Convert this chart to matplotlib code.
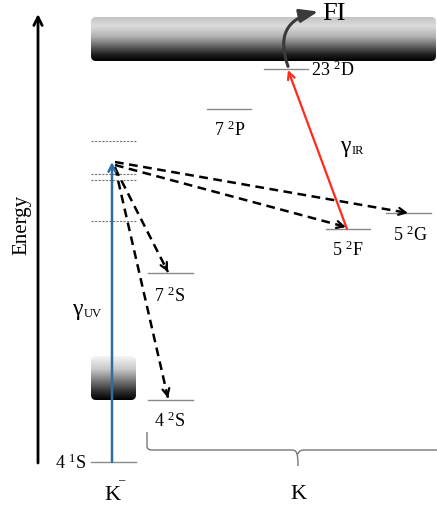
import numpy as np
import matplotlib
matplotlib.use("Agg")
import matplotlib.pyplot as plt
from matplotlib.patches import FancyBboxPatch, FancyArrowPatch, PathPatch
from matplotlib.path import Path
from matplotlib.colors import LinearSegmentedColormap

plt.rcParams['font.family'] = ['Liberation Serif', 'DejaVu Serif']
plt.rcParams['mathtext.fontset'] = 'custom'
plt.rcParams['mathtext.rm'] = 'Liberation Serif'
plt.rcParams['mathtext.it'] = 'Liberation Serif:italic'
plt.rcParams['mathtext.bf'] = 'Liberation Serif:bold'

# Energy levels: label, left x, right x, energy (screen units, down = lower energy)
level_names = [r"4 $\mathrm{^1}$S", r"4 $\mathrm{^2}$S", r"7 $\mathrm{^2}$S", r"7 $\mathrm{^2}$P",
               r"23 $\mathrm{^2}$D", r"5 $\mathrm{^2}$F", r"5 $\mathrm{^2}$G"]
level_x0 = [91, 148, 148, 207, 264, 326, 386]
level_x1 = [136, 193, 193, 251, 308, 370, 431]
level_e = [463, 401, 274, 110, 70, 230, 214]

# Virtual (dotted) levels of the anion
virtual_e = [142, 175, 181, 222]

# Decay channels from the excited anion state: (target x, target energy)
excited = (112, 163)
decay_x = [408, 346, 168, 168]
decay_e = [214, 228, 273, 399]
decay_start_dy = [0, 3, 6, 5]

fig = plt.figure(figsize=(4.37, 5.06), dpi=100)
ax = fig.add_axes([0, 0, 1, 1])
ax.set_xlim(0, 437)
ax.set_ylim(506, 0)
ax.axis('off')

# Energy axis
ax.annotate('', xy=(38, 15), xytext=(38, 464),
            arrowprops=dict(arrowstyle='->,head_length=0.6,head_width=0.3',
                            lw=2, color='black', shrinkA=0, shrinkB=0))
ax.text(22, 225, 'Energy', rotation=90, ha='center', va='center', fontsize=15)

# Continua drawn as gradient boxes
def gradient_box(x0, x1, y_top, y_bot, colors, rad):
    cmap = LinearSegmentedColormap.from_list('g', colors)
    grad = np.linspace(0, 1, 256).reshape(-1, 1)
    im = ax.imshow(grad, cmap=cmap, extent=[x0, x1, y_bot, y_top],
                   origin='upper', aspect='auto', zorder=1, interpolation='bilinear')
    box = FancyBboxPatch((x0 + rad, y_top + rad), (x1 - x0) - 2 * rad, (y_bot - y_top) - 2 * rad,
                         boxstyle=f'round,pad={rad}', transform=ax.transData,
                         facecolor='none', edgecolor='none')
    ax.add_patch(box)
    im.set_clip_path(box)

gradient_box(91, 436, 18, 62,
             [(0, '#c4c4c4'), (0.2, '#dcdcdc'), (0.45, '#b0b0b0'), (0.85, '#202020'), (1, '#000000')], 5)
gradient_box(91, 136, 357, 401,
             [(0, '#f6f6f6'), (0.3, '#c8c8c8'), (0.8, '#303030'), (1, '#000000')], 5)

# Real levels
for x0, x1, e in zip(level_x0, level_x1, level_e):
    ax.plot([x0, x1], [e, e], color='#8a8a8a', lw=1, zorder=3)

# Virtual levels
for e in virtual_e:
    ax.plot([91, 136], [e, e], color='#777777', lw=0.8,
            linestyle=(0, (2, 1.2)), zorder=3)

# Level labels
lab = dict(fontsize=13, va='center')
ax.text(86, 463, level_names[0], ha='right', **lab)
ax.text(170, 421, level_names[1], ha='center', **lab)
ax.text(170, 296, level_names[2], ha='center', **lab)
ax.text(230, 130, level_names[3], ha='center', **lab)
ax.text(311, 70, level_names[4], ha='left', **lab)
ax.text(348, 250, level_names[5], ha='center', **lab)
ax.text(410, 235, level_names[6], ha='center', **lab)

# UV excitation
ax.annotate('', xy=excited, xytext=(112, 463),
            arrowprops=dict(arrowstyle='->,head_length=0.5,head_width=0.25',
                            lw=1.8, color='#2f6ca3', shrinkA=0, shrinkB=0), zorder=5)
ax.text(77, 309, 'γ', fontsize=17, ha='center', va='center')
ax.text(84, 314, 'UV', fontsize=9, ha='left', va='center')

# Decay channels (dashed body, solid head)
for tx, te, dy in zip(decay_x, decay_e, decay_start_dy):
    sx, sy = excited[0] + 3, excited[1] + dy
    ax.plot([sx, tx], [sy, te], color='black', lw=1.8,
            linestyle=(0, (3.5, 2.2)), zorder=4)
    d = np.hypot(tx - sx, te - sy)
    hx = tx - (tx - sx) / d * 6
    hy = te - (te - sy) / d * 6
    ax.annotate('', xy=(tx, te), xytext=(hx, hy),
                arrowprops=dict(arrowstyle='->,head_length=0.5,head_width=0.25',
                                lw=1.6, color='black', shrinkA=0, shrinkB=0), zorder=4)

# IR excitation
ax.annotate('', xy=(288, 71), xytext=(347, 230),
            arrowprops=dict(arrowstyle='->,head_length=0.5,head_width=0.25',
                            lw=1.6, color='#ff2a1a', shrinkA=0, shrinkB=0), zorder=5)
ax.text(345, 146, 'γ', fontsize=17, ha='center', va='center')
ax.text(352, 151, 'IR', fontsize=9, ha='left', va='center')

# Field ionisation
fi = FancyArrowPatch((289, 70), (321, 12),
                     connectionstyle='arc3,rad=-0.6',
                     arrowstyle='-|>,head_length=11,head_width=4',
                     lw=2.2, color='#3a3a3a', zorder=6)
ax.add_patch(fi)
ax.text(322, 14, 'FI', fontsize=19, ha='left', va='center')

# Species labels
ax.text(112, 496, 'K', fontsize=16, ha='center', va='center')
ax.text(121, 480, '–', fontsize=9, ha='center', va='center')
ax.text(298, 495, 'K', fontsize=16, ha='center', va='center')

# Brace under the neutral levels
verts = [(147, 433), (147, 447), (147, 451), (152, 451),
         (292, 451), (297, 451), (298, 455), (298, 467),
         (298, 455), (299, 451), (304, 451), (437, 451)]
codes = [Path.MOVETO, Path.LINETO, Path.CURVE3, Path.CURVE3,
         Path.LINETO, Path.CURVE4, Path.CURVE4, Path.CURVE4,
         Path.MOVETO, Path.CURVE3, Path.CURVE3, Path.LINETO]
ax.add_patch(PathPatch(Path(verts, codes), facecolor='none',
                       edgecolor='#777777', lw=1))

fig.savefig('out.png', dpi=100)
